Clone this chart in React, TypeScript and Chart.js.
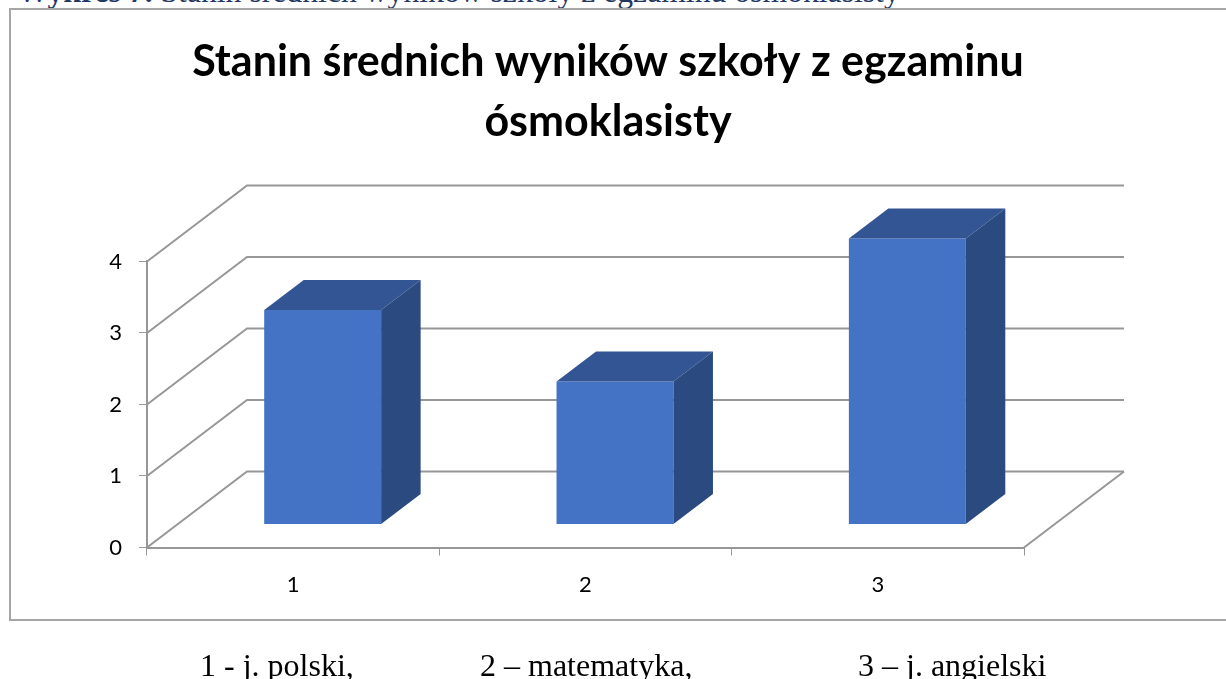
import React, { useEffect, useRef } from "react";
import { Chart, registerables } from "chart.js";

Chart.register(...registerables);

const categories = ["1", "2", "3"];
const staninValues = [3, 2, 4];
const yTickValues = [0, 1, 2, 3, 4];
const titleLines = ["Stanin średnich wyników szkoły z egzaminu", "ósmoklasisty"];
const captionLead = "Wykres 7.";
const captionRest = " Stanin średnich wyników szkoły z egzaminu ósmoklasisty";
const footerNotes = ["1 - j. polski,", "2 – matematyka,", "3 – j. angielski"];

const WALL_DX = 100;
const WALL_DY = -76;
const BAR_SHIFT_X = 29.5;
const BAR_SHIFT_Y = -23;
const DEPTH_X = 39.5;
const DEPTH_Y = -30;
const GRID = "#979797";

const chart3d = {
  id: "chart3d",
  beforeDatasetsDraw(chart: any) {
    const { ctx, scales } = chart;
    const y = scales.y;
    const left = chart.chartArea.left;
    const right = chart.chartArea.right;
    ctx.save();
    ctx.strokeStyle = GRID;
    ctx.lineWidth = 2;
    for (const v of yTickValues) {
      const py = y.getPixelForValue(v);
      ctx.beginPath();
      ctx.moveTo(left, py);
      ctx.lineTo(left + WALL_DX, py + WALL_DY);
      ctx.lineTo(right + WALL_DX, py + WALL_DY);
      ctx.stroke();
    }
    const p0 = y.getPixelForValue(0);
    ctx.beginPath();
    ctx.moveTo(right, p0);
    ctx.lineTo(right + WALL_DX, p0 + WALL_DY);
    ctx.stroke();
    ctx.restore();
  },
  beforeDatasetDraw(chart: any) {
    const { ctx } = chart;
    ctx.save();
    ctx.translate(BAR_SHIFT_X, BAR_SHIFT_Y);
  },
  afterDatasetDraw(chart: any, args: any) {
    const { ctx } = chart;
    ctx.restore();
    ctx.save();
    for (const bar of args.meta.data) {
      const { x, y, base, width } = bar.getProps(["x", "y", "base", "width"], true);
      const l = x - width / 2 + BAR_SHIFT_X;
      const r = x + width / 2 + BAR_SHIFT_X;
      const t = y + BAR_SHIFT_Y;
      const b = base + BAR_SHIFT_Y;
      ctx.fillStyle = "#335593";
      ctx.beginPath();
      ctx.moveTo(l, t);
      ctx.lineTo(l + DEPTH_X, t + DEPTH_Y);
      ctx.lineTo(r + DEPTH_X, t + DEPTH_Y);
      ctx.lineTo(r, t);
      ctx.closePath();
      ctx.fill();
      ctx.fillStyle = "#2A4A80";
      ctx.beginPath();
      ctx.moveTo(r, t);
      ctx.lineTo(r + DEPTH_X, t + DEPTH_Y);
      ctx.lineTo(r + DEPTH_X, b + DEPTH_Y);
      ctx.lineTo(r, b);
      ctx.closePath();
      ctx.fill();
    }
    ctx.restore();
  },
};

export default function App() {
  const ref = useRef<HTMLCanvasElement | null>(null);

  useEffect(() => {
    document.body.style.margin = "0";
    const axisFont = { family: "Lato, Carlito, sans-serif", size: 22 };
    const chart = new Chart(ref.current!, {
      type: "bar",
      data: {
        labels: categories,
        datasets: [
          {
            data: staninValues,
            backgroundColor: "#4472C4",
            borderWidth: 0,
            barPercentage: 1,
            categoryPercentage: 0.4,
            clip: false,
          },
        ],
      },
      plugins: [chart3d],
      options: {
        responsive: false,
        animation: false,
        devicePixelRatio: 1,
        layout: { padding: 0 },
        plugins: {
          legend: { display: false },
          tooltip: { enabled: false },
          title: {
            display: true,
            text: titleLines,
            color: "#000000",
            font: { family: "Lato, Carlito, sans-serif", size: 43, weight: "bold", lineHeight: 1.395 },
            padding: { top: 32.5, bottom: 109 },
          },
        },
        scales: {
          x: {
            offset: true,
            afterFit(scale: any) {
              scale.height = 131.5;
            },
            border: { color: GRID, width: 2 },
            grid: { display: true, drawOnChartArea: false, drawTicks: true, tickLength: 8, color: GRID, offset: true },
            ticks: { color: "#000000", font: axisFont, padding: 16, maxRotation: 0 },
          },
          y: {
            min: 0,
            max: 4,
            afterFit(scale: any) {
              scale.width = 147;
            },
            border: { color: GRID, width: 2 },
            grid: { display: true, drawOnChartArea: false, drawTicks: true, tickLength: 8, color: GRID },
            ticks: { color: "#000000", font: axisFont, padding: 17, stepSize: 1 },
          },
          spacer: {
            type: "linear",
            position: "right",
            afterFit(scale: any) {
              scale.width = 192;
            },
            border: { display: false },
            grid: { display: false },
            ticks: { display: false },
          },
        },
      },
    } as any);
    return () => chart.destroy();
  }, []);

  const textBase: React.CSSProperties = {
    position: "absolute",
    fontFamily: '"Liberation Serif", serif',
    whiteSpace: "nowrap",
  };

  return (
    <div style={{ position: "relative", width: 1226, height: 679, overflow: "hidden", background: "#fff" }}>
      <div style={{ ...textBase, left: 17, top: -27, fontSize: 31.7, lineHeight: "37px", color: "#1F3864" }}>
        <b>{captionLead}</b>
        {captionRest}
      </div>
      <div
        style={{
          position: "absolute",
          left: 9,
          top: 8,
          width: 1240,
          height: 609,
          border: "2px solid #a6a6a6",
          background: "#fff",
        }}
      />
      <canvas ref={ref} width={1216} height={679} style={{ position: "absolute", left: 0, top: 0, display: "block" }} />
      <div style={{ ...textBase, left: 200, top: 647, fontSize: 32, lineHeight: "36px", color: "#000" }}>{footerNotes[0]}</div>
      <div style={{ ...textBase, left: 480, top: 647, fontSize: 32, lineHeight: "36px", color: "#000" }}>{footerNotes[1]}</div>
      <div style={{ ...textBase, left: 858, top: 647, fontSize: 32, lineHeight: "36px", color: "#000" }}>{footerNotes[2]}</div>
    </div>
  );
}
